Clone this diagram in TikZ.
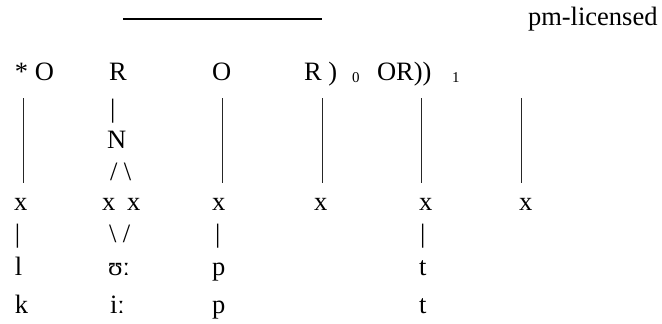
\documentclass[tikz,border=0pt]{standalone}
\usepackage{fontspec}
\setmainfont{Liberation Serif}
\begin{document}
\begin{tikzpicture}[x=1pt,y=-1pt,
  lbl/.style={anchor=base west,inner sep=0pt,outer sep=0pt,font=\fontsize{26.5}{30}\selectfont},
  sub/.style={anchor=base west,inner sep=0pt,outer sep=0pt,font=\fontsize{15}{17}\selectfont},
  stem/.style={line width=0.9pt,draw=black!85}]
\useasboundingbox (0,0) rectangle (662,324);
% top bar and label
\coordinate (barL) at (123,19);
\coordinate (barR) at (322,19);
\draw[line width=1.3pt] (barL) -- (barR);
\node[lbl] (pm) at (528,25) {pm-licensed};
% top row
\node[lbl] (t1) at (15,80) {* O};
\node[lbl] (t2) at (109,80) {R};
\node[lbl] (t3) at (212,80) {O};
\node[lbl] (t4) at (304,80) {R )};
\node[sub] (s0) at (352,82) {0};
\node[lbl] (t5) at (377,80) {OR))};
\node[sub] (s1) at (452,82) {1};
% column 2 tree
\node[lbl] (b2) at (110,117) {|};
\node[lbl] (n2) at (107,148) {N};
\node[lbl] (sl2) at (110,180) {/ \textbackslash};
\node[lbl] (x2) at (102,210) {x\hspace{12pt}x};
\node[lbl] (bs2) at (109,242) {\textbackslash\ /};
\node[lbl] (u2) at (108,275) {ʊː};
\node[lbl] (i2) at (110,313) {iː};
% x row
\node[lbl] (x1) at (14,210) {x};
\node[lbl] (x3) at (212,210) {x};
\node[lbl] (x4) at (314,210) {x};
\node[lbl] (x5) at (419,210) {x};
\node[lbl] (x6) at (519,210) {x};
% lower rows
\node[lbl] (v1) at (15,242) {|};
\node[lbl] (l1) at (15,275) {l};
\node[lbl] (k1) at (15,313) {k};
\node[lbl] (v3) at (215,242) {|};
\node[lbl] (p3) at (212,275) {p};
\node[lbl] (q3) at (212,313) {p};
\node[lbl] (v5) at (420,242) {|};
\node[lbl] (t5a) at (419,275) {t};
\node[lbl] (t5b) at (419,313) {t};
% long stems
\coordinate (a1) at (23,98);  \coordinate (e1) at (23,183);
\coordinate (a3) at (222,98); \coordinate (e3) at (222,183);
\coordinate (a4) at (322,98); \coordinate (e4) at (322,183);
\coordinate (a5) at (421,98); \coordinate (e5) at (421,183);
\coordinate (a6) at (521,98); \coordinate (e6) at (521,183);
\foreach \i in {1,3,4,5,6} \draw[stem] (a\i) -- (e\i);
\end{tikzpicture}
\end{document}
